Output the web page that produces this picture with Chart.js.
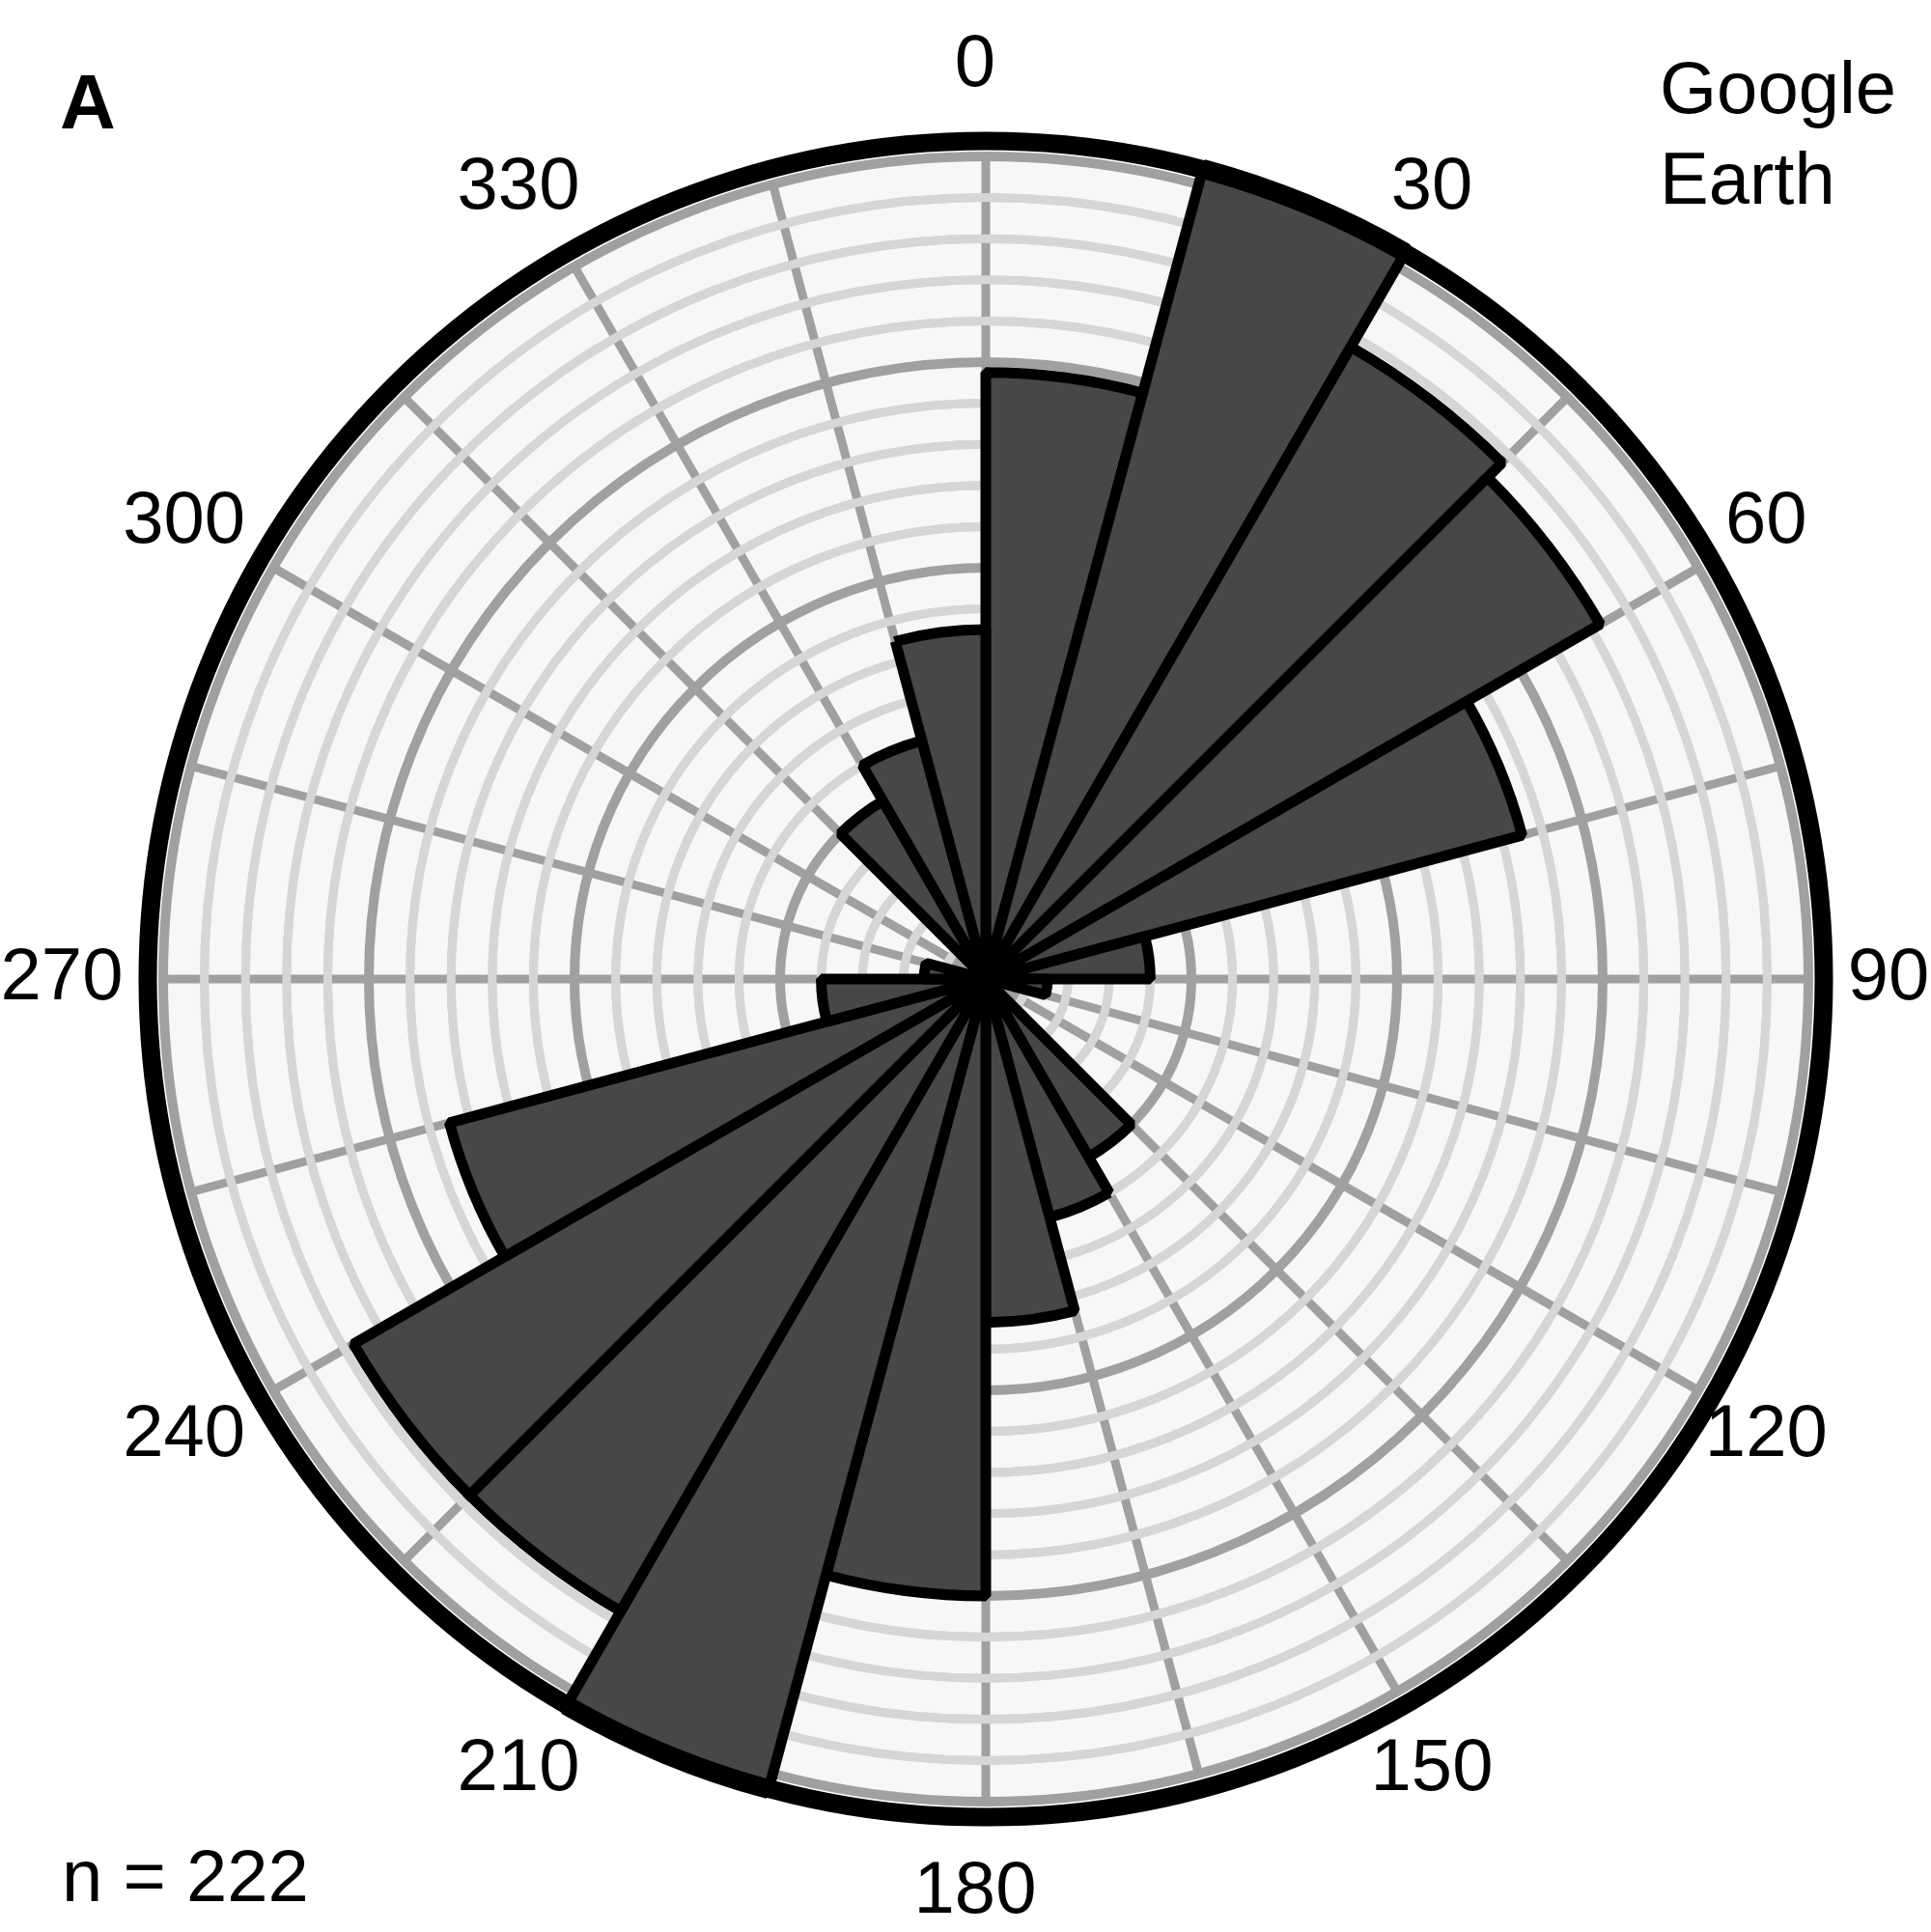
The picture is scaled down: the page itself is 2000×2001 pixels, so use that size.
<!DOCTYPE html>
<html>
<head>
<meta charset="utf-8">
<title>Rose diagram</title>
<script src="https://cdn.jsdelivr.net/npm/chart.js@4.4.1/dist/chart.umd.min.js"></script>
<style>
  html, body { margin: 0; padding: 0; background: #fff; }
  #wrap { position: relative; width: 2000px; height: 2001px; overflow: hidden; }
  .note {
    position: absolute;
    font-family: 'Liberation Sans', Arial, sans-serif;
    font-size: 76px;
    line-height: 76px;
    color: #000;
    white-space: nowrap;
  }
</style>
</head>
<body>
<div id="wrap">
  <canvas id="rose"></canvas>
  <div class="note" style="left:62px; top:68px; font-weight:bold; font-size:80px;">A</div>
  <div class="note" style="left:1719px; top:44px; line-height:94px;">Google<br>Earth</div>
  <div class="note" style="left:64px; top:1905px;">n = 222</div>
</div>
<script>
// 15° sectors, clockwise from north
const sectorLabels = ['0', '', '30', '', '60', '', '90', '', '120', '', '150', '',
                      '180', '', '210', '', '240', '', '270', '', '300', '', '330', ''];
const sectorCounts = [29.5, 41, 35.5, 34.5, 27, 8, 3, 0, 0, 10, 12, 16.7,
                      30, 41, 35.5, 35.5, 27, 8, 3, 0, 0, 10, 12, 17];
const ringStep = 2;
const ringMax = 40;
const majorEvery = 10;

const DARK_GRID = '#a0a0a0';
const LIGHT_GRID = '#d6d6d6';
const LABEL_FONT = '76px "Liberation Sans", Arial, sans-serif';

// light rings sit on top of the spokes
const ringsOverSpokes = {
    id: 'ringsOverSpokes',
    beforeDatasetsDraw(chart) {
        const scale = chart.scales.r;
        const ctx = chart.ctx;
        ctx.save();
        ctx.strokeStyle = LIGHT_GRID;
        ctx.lineWidth = 9;
        scale.ticks.forEach(t => {
            if (t.value <= 0 || t.value % majorEvery === 0) return;
            ctx.beginPath();
            ctx.arc(scale.xCenter, scale.yCenter, scale.getDistanceFromCenterForValue(t.value), 0, Math.PI * 2);
            ctx.stroke();
        });
        ctx.restore();
    }
};

// heavy black frame, then the bearing labels centred on a ring outside it
const frameAndBearings = {
    id: 'frameAndBearings',
    afterDatasetsDraw(chart) {
        const scale = chart.scales.r;
        const ctx = chart.ctx;
        ctx.save();
        ctx.strokeStyle = '#000';
        ctx.lineWidth = 19;
        ctx.beginPath();
        ctx.arc(scale.xCenter, scale.yCenter, scale.drawingArea + 16, 0, Math.PI * 2);
        ctx.stroke();

        ctx.fillStyle = '#000';
        ctx.font = LABEL_FONT;
        ctx.textAlign = 'center';
        ctx.textBaseline = 'middle';
        const labelRadius = scale.drawingArea + 94;
        sectorLabels.forEach((txt, i) => {
            if (!txt) return;
            const p = scale.getPointPosition(i, labelRadius);
            ctx.fillText(txt, p.x - 11, p.y);
        });
        ctx.restore();
    }
};

const ctx = document.getElementById('rose').getContext('2d');
new Chart(ctx, {
    type: 'polarArea',
    data: {
        labels: sectorLabels,
        datasets: [{
            data: sectorCounts,
            backgroundColor: '#474747',
            borderColor: '#000',
            borderWidth: 11
        }]
    },
    options: {
        responsive: true,
        maintainAspectRatio: false,
        animation: false,
        layout: { padding: { left: 169, right: 127, top: 162, bottom: 135 } },
        plugins: {
            legend: { display: false },
            tooltip: { enabled: false }
        },
        scales: {
            r: {
                min: 0,
                max: ringMax,
                startAngle: 0,
                backgroundColor: '#f7f7f7',
                ticks: { display: false, stepSize: ringStep },
                grid: {
                    circular: true,
                    lineWidth: c => (c.tick && c.tick.value % majorEvery === 0) ? 10 : 9,
                    color: c => (c.tick && c.tick.value % majorEvery === 0) ? DARK_GRID : LIGHT_GRID
                },
                angleLines: {
                    display: true,
                    color: DARK_GRID,
                    lineWidth: 9
                },
                pointLabels: { display: false }
            }
        }
    },
    plugins: [ringsOverSpokes, frameAndBearings]
});
</script>
</body>
</html>
